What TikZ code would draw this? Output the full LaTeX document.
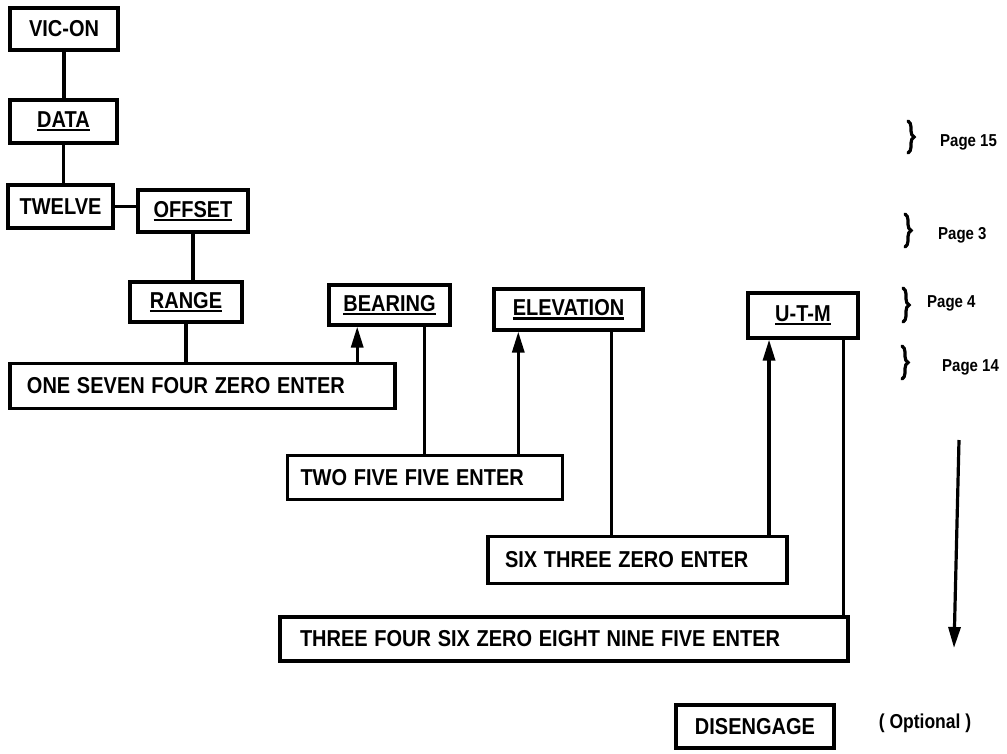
\documentclass[tikz,border=0pt]{standalone}
\usepackage{fontspec}
\usepackage{graphicx}
\setmainfont{Liberation Sans}
\usetikzlibrary{arrows.meta,calc,decorations.pathreplacing}
\newcommand\myul[1]{\leavevmode\setbox0\hbox{#1}\rlap{\rule[-3.5pt]{\wd0}{1.8pt}}\box0}
\newcommand\tx[1]{\scalebox{1}[1.15]{#1}}
\begin{document}
\begin{tikzpicture}[x=1pt,y=-1pt,
  box/.style={draw, line width=3.2pt, inner sep=0pt, font=\bfseries\fontsize{20}{22}\selectfont, align=center},
  lbox/.style={box, align=left},
  conn/.style={line width=3.2pt},
  arr/.style={line width=3.2pt, -{Triangle[length=21pt,width=12pt]}},
  brc/.style={line width=3.2pt, line cap=round, decorate, decoration={brace, amplitude=6pt}},
  pg/.style={font=\bfseries\fontsize{15}{17}\selectfont, anchor=west, inner sep=0pt}]
\useasboundingbox (0,0) rectangle (1007,753);

% boxes
\node[box, minimum width=108pt, minimum height=42pt] (vic) at (64,29) {\tx{VIC-ON}};
\node[box, minimum width=107pt, minimum height=43pt] (data) at (63.5,121.5) {\tx{\myul{DATA}}};
\node[box, minimum width=105pt, minimum height=43pt] (twelve) at (60.5,206.5) {\tx{TWELVE}};
\node[box, minimum width=110pt, minimum height=42pt] (offset) at (193,211) {\tx{\myul{OFFSET}}};
\node[box, minimum width=112pt, minimum height=40pt] (range) at (186,302) {\tx{\myul{RANGE}}};
\node[box, minimum width=121pt, minimum height=40pt] (bearing) at (389.5,305) {\tx{\myul{BEARING}}};
\node[box, minimum width=149pt, minimum height=41pt] (elev) at (568.5,309.5) {\tx{\myul{ELEVATION}}};
\node[box, minimum width=110pt, minimum height=45pt] (utm) at (803,315.5) {\tx{\myul{U-T-M}}};
\node[lbox, text width=351pt, inner xsep=17pt, minimum height=45pt] (one) at (202.5,386) {\tx{ONE SEVEN FOUR ZERO ENTER}};
\node[lbox, text width=249pt, inner xsep=13pt, minimum height=44pt] (two) at (425,477.5) {\tx{TWO FIVE FIVE ENTER}};
\node[lbox, text width=265pt, inner xsep=17pt, minimum height=47pt] (six) at (637.5,560) {\tx{SIX THREE ZERO ENTER}};
\node[lbox, text width=528pt, inner xsep=20pt, minimum height=44pt] (three) at (564,639) {\tx{THREE FOUR SIX ZERO EIGHT NINE FIVE ENTER}};
\node[box, minimum width=158pt, minimum height=43pt] (dis) at (755,726.5) {\tx{DISENGAGE}};
\node[font=\bfseries\fontsize{17.5}{20}\selectfont, inner sep=0pt] (opt) at (925,723) {\tx{( Optional )}};

% connectors
\draw[conn] (vic.south) -- (vic.south |- data.north);
\draw[conn] (data.south) -- (data.south |- twelve.north);
\draw[conn] (twelve.east) -- (twelve.east -| offset.west);
\draw[conn] (offset.south) -- (offset.south |- range.north);
\draw[conn] (range.south) -- (range.south |- one.north);

\coordinate (b1) at ($(bearing.south west)!0.24!(bearing.south east)$);
\coordinate (b2) at ($(bearing.south west)!0.78!(bearing.south east)$);
\coordinate (e1) at ($(elev.south west)!0.17!(elev.south east)$);
\coordinate (e2) at ($(elev.south west)!0.78!(elev.south east)$);
\coordinate (u1) at ($(utm.south west)!0.20!(utm.south east)$);
\coordinate (u2) at ($(utm.south west)!0.86!(utm.south east)$);

\draw[arr] (b1 |- one.north) -- (b1);
\draw[conn] (b2) -- (b2 |- two.north);
\draw[arr] (e1 |- two.north) -- (e1);
\draw[conn] (e2) -- (e2 |- six.north);
\draw[arr] (u1 |- six.north) -- (u1);
\draw[conn] (u2) -- (u2 |- three.north);

% down arrow
\coordinate (dtop) at (959,440);
\coordinate (dbot) at (954,648);
\draw[arr] (dtop) -- (dbot);

% braces and page labels
\draw[brc] (908,121) -- (908,153);
\node[pg] (p15) at (940,142) {\tx{Page 15}};
\draw[brc] (905,214) -- (905,247);
\node[pg] (p3) at (938,235) {\tx{Page 3}};
\draw[brc] (903,288) -- (903,322);
\node[pg] (p4) at (927,303) {\tx{Page 4}};
\draw[brc] (902,346) -- (902,379);
\node[pg] (p14) at (942,367) {\tx{Page 14}};
\end{tikzpicture}
\end{document}
